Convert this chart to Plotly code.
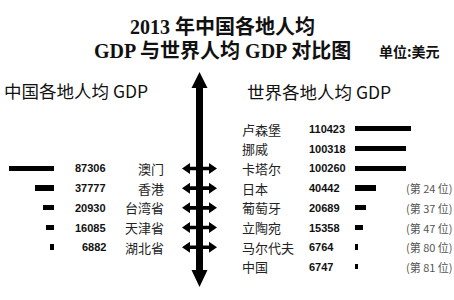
import plotly.graph_objects as go

# ---- data ----
china_regions = ["澳门", "香港", "台湾省", "天津省", "湖北省"]
china_gdp = [87306, 37777, 20930, 16085, 6882]

world_countries = ["卢森堡", "挪威", "卡塔尔", "日本", "葡萄牙", "立陶宛", "马尔代夫", "中国"]
world_gdp = [110423, 100318, 100260, 40442, 20689, 15358, 6764, 6747]
world_rank = [None, None, None, 24, 37, 47, 80, 81]

title_line1 = "2013 年中国各地人均"
title_line2 = "GDP 与世界人均 GDP 对比图"
unit_text = "单位:美元"
left_header = "中国各地人均 GDP"
right_header = "世界各地人均 GDP"

# ---- layout constants (pixels) ----
W, H = 454, 300
PX_PER_UNIT = 0.00051
CJK = "Noto Sans CJK SC"
NUMF = "Liberation Sans"

def px(x):
    return x / W

def py(y):
    return 1 - y / H

y_top, y_bot = 119.2, 276.8
ydom = [py(y_bot), py(y_top)]
n_world = len(world_countries)
shift = 2  # china rows align with world rows starting at index 2

fig = go.Figure()
fig.add_trace(go.Bar(
    y=world_countries, x=world_gdp, orientation="h",
    marker=dict(color="#000000", line=dict(width=0)), width=0.26,
    xaxis="x", yaxis="y", showlegend=False, hoverinfo="x+y"))
fig.add_trace(go.Bar(
    y=china_regions, x=china_gdp, orientation="h",
    marker=dict(color="#000000", line=dict(width=0)), width=0.26,
    xaxis="x2", yaxis="y2", showlegend=False, hoverinfo="x+y"))

right_x0 = 355
left_x1 = 54
fig.update_layout(
    width=W, height=H,
    margin=dict(l=0, r=0, t=0, b=0),
    paper_bgcolor="white", plot_bgcolor="rgba(0,0,0,0)",
    bargap=0,
    xaxis=dict(domain=[px(right_x0), 1], range=[0, (W - right_x0) / PX_PER_UNIT],
               visible=False, anchor="y"),
    yaxis=dict(domain=ydom, range=[n_world - 0.5, -0.5], visible=False,
               anchor="x", type="category"),
    xaxis2=dict(domain=[0, px(left_x1)], range=[left_x1 / PX_PER_UNIT, 0],
                visible=False, anchor="y2"),
    yaxis2=dict(domain=ydom, range=[n_world - 0.5 - shift, -0.5 - shift],
                visible=False, anchor="x2", type="category"),
)

ann = []
# titles
ann.append(dict(text="<b>" + title_line1 + "</b>", x=px(222), y=py(27), xref="paper", yref="paper",
                xanchor="center", yanchor="middle", showarrow=False,
                font=dict(family="Liberation Serif, " + CJK, size=20, color="#111")))
ann.append(dict(text="<b>" + title_line2 + "</b>", x=px(222), y=py(51), xref="paper", yref="paper",
                xanchor="center", yanchor="middle", showarrow=False,
                font=dict(family="Liberation Serif, " + CJK, size=20, color="#111")))
ann.append(dict(text="<b>" + unit_text + "</b>", x=px(377), y=py(51), xref="paper", yref="paper",
                xanchor="left", yanchor="middle", showarrow=False,
                font=dict(family=CJK, size=14, color="#111")))
ann.append(dict(text=left_header, x=px(2), y=py(90), xref="paper", yref="paper",
                xanchor="left", yanchor="middle", showarrow=False,
                font=dict(family=CJK, size=17.5, color="#111")))
ann.append(dict(text=right_header, x=px(245), y=py(91), xref="paper", yref="paper",
                xanchor="left", yanchor="middle", showarrow=False,
                font=dict(family=CJK, size=17.5, color="#111")))

# world rows
for i, (name, val, rk) in enumerate(zip(world_countries, world_gdp, world_rank)):
    ann.append(dict(text=name, x=px(240), y=i, xref="paper", yref="y",
                    xanchor="left", yanchor="middle", showarrow=False,
                    font=dict(family=CJK, size=13, color="#222")))
    ann.append(dict(text="<b>%d</b>" % val, x=px(307), y=i, xref="paper", yref="y",
                    xanchor="left", yanchor="middle", showarrow=False,
                    font=dict(family=NUMF, size=11, color="#111")))
    if rk is not None:
        ann.append(dict(text="(第 %d 位)" % rk, x=px(404), y=i, xref="paper", yref="y",
                        xanchor="left", yanchor="middle", showarrow=False,
                        font=dict(family=CJK, size=11, color="#555")))

# china rows
for i, (name, val) in enumerate(zip(china_regions, china_gdp)):
    ann.append(dict(text=name, x=px(166), y=i, xref="paper", yref="y2",
                    xanchor="right", yanchor="middle", showarrow=False,
                    font=dict(family=CJK, size=13, color="#222")))
    ann.append(dict(text="<b>%d</b>" % val, x=px(108), y=i, xref="paper", yref="y2",
                    xanchor="right", yanchor="middle", showarrow=False,
                    font=dict(family=NUMF, size=11, color="#111")))

fig.update_layout(annotations=ann)

# ---- arrows (decorations) ----
shapes = []
cx = 199.5
hw, headw = 3.5, 8
t_tip, t_base, b_base, b_tip = 72, 88, 270, 287
pts = [(cx, t_tip), (cx + headw, t_base), (cx + hw, t_base), (cx + hw, b_base),
       (cx + headw, b_base), (cx, b_tip), (cx - headw, b_base), (cx - hw, b_base),
       (cx - hw, t_base), (cx - headw, t_base)]
path = "M " + " L ".join("%.5f,%.5f" % (px(a), py(b)) for a, b in pts) + " Z"
shapes.append(dict(type="path", path=path, xref="paper", yref="paper",
                   fillcolor="#000", line=dict(width=0)))

# horizontal double arrows at each china row
hx0, hx1 = 182, 217
hl, hh, sh = 8, 5.5, 1.8
for i in range(len(china_regions)):
    pts = [(hx0, 0), (hx0 + hl, hh), (hx0 + hl, sh), (hx1 - hl, sh), (hx1 - hl, hh),
           (hx1, 0), (hx1 - hl, -hh), (hx1 - hl, -sh), (hx0 + hl, -sh), (hx0 + hl, -hh)]
    p = "M " + " L ".join("%.5f,%.2f" % (px(a), b) for a, b in pts) + " Z"
    shapes.append(dict(type="path", path=p, xref="paper", yref="y2",
                       ysizemode="pixel", yanchor=i,
                       fillcolor="#000", line=dict(width=0)))

fig.update_layout(shapes=shapes)

fig.write_html("out.html")
